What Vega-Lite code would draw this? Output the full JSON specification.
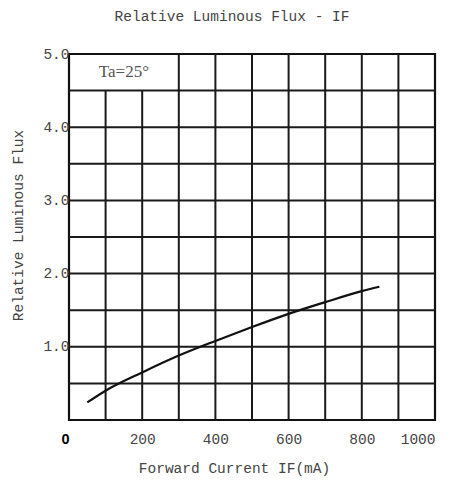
{
  "$schema": "https://vega.github.io/schema/vega-lite/v6.json",
  "width": 366,
  "height": 366,
  "autosize": {"type": "none"},
  "padding": {"left": 69, "top": 54, "right": 22, "bottom": 64},
  "background": "white",
  "title": {
    "text": "Relative Luminous Flux - IF",
    "font": "Liberation Mono",
    "fontSize": 14.5,
    "fontWeight": "normal",
    "color": "#444",
    "offset": 22,
    "dx": -20
  },
  "config": {
    "view": {"stroke": "#111", "strokeWidth": 2.2},
    "axis": {"grid": false, "domain": false, "ticks": false}
  },
  "datasets": {
    "hgrid": [
      {"y": 0.5}, {"y": 1.0}, {"y": 1.5}, {"y": 2.0}, {"y": 2.5},
      {"y": 3.0}, {"y": 3.5}, {"y": 4.0}, {"y": 4.5}
    ],
    "vgrid": [
      {"x": 100, "y0": 0, "y1": 4.5},
      {"x": 200, "y0": 0, "y1": 4.5},
      {"x": 300, "y0": 0, "y1": 5},
      {"x": 400, "y0": 0, "y1": 5},
      {"x": 500, "y0": 0, "y1": 5},
      {"x": 600, "y0": 0, "y1": 5},
      {"x": 700, "y0": 0, "y1": 5},
      {"x": 800, "y0": 0, "y1": 5},
      {"x": 900, "y0": 0, "y1": 5}
    ],
    "curve": [
      {"current": 50, "flux": 0.24},
      {"current": 100, "flux": 0.40},
      {"current": 200, "flux": 0.65},
      {"current": 300, "flux": 0.88},
      {"current": 400, "flux": 1.08},
      {"current": 500, "flux": 1.27},
      {"current": 600, "flux": 1.45},
      {"current": 700, "flux": 1.61},
      {"current": 800, "flux": 1.76},
      {"current": 848, "flux": 1.82}
    ],
    "note": [{"x": 150, "y": 4.75, "label": "Ta=25°"}]
  },
  "layer": [
    {
      "data": {"name": "hgrid"},
      "mark": {"type": "rule", "color": "#1a1a1a", "strokeWidth": 2},
      "encoding": {
        "y": {
          "field": "y",
          "type": "quantitative",
          "scale": {"domain": [0, 5], "nice": false},
          "axis": {
            "values": [1, 2, 3, 4, 5],
            "format": ".1f",
            "title": "Relative Luminous Flux",
            "titleFont": "Liberation Mono",
            "titleFontSize": 14.5,
            "titleFontWeight": "normal",
            "titleColor": "#444",
            "titleAngle": -90,
            "titleBaseline": "middle",
            "titleAlign": "center",
            "titleX": -51,
            "titleY": 171,
            "labelFont": "Liberation Mono",
            "labelFontSize": 14.5,
            "labelColor": "#444",
            "labelPadding": 0,
            "labelDy": 2
          }
        }
      }
    },
    {
      "data": {"name": "vgrid"},
      "mark": {"type": "rule", "color": "#1a1a1a", "strokeWidth": 2},
      "encoding": {
        "x": {
          "field": "x",
          "type": "quantitative",
          "scale": {"domain": [0, 1000], "nice": false},
          "axis": {
            "values": [0, 200, 400, 600, 800, 1000],
            "format": "d",
            "title": "Forward Current IF(mA)",
            "titleFont": "Liberation Mono",
            "titleFontSize": 14.5,
            "titleFontWeight": "normal",
            "titleColor": "#444",
            "titleX": 165,
            "titlePadding": 16,
            "labelFont": {"condition": {"test": "datum.value === 0", "value": "Liberation Sans"}, "value": "Liberation Mono"},
            "labelFontWeight": {"condition": {"test": "datum.value === 0", "value": "bold"}, "value": "normal"},
            "labelColor": {"condition": {"test": "datum.value === 0", "value": "#000"}, "value": "#444"},
            "labelAlign": {"condition": {"test": "datum.value === 0 || datum.value === 1000", "value": "right"}, "value": "center"},
            "labelFontSize": 14.5,
            "labelDx": 5,
            "labelPadding": 12
          }
        },
        "y": {"field": "y0", "type": "quantitative"},
        "y2": {"field": "y1"}
      }
    },
    {
      "data": {"name": "curve"},
      "mark": {"type": "line", "color": "#111", "strokeWidth": 2.2, "interpolate": "monotone"},
      "encoding": {
        "x": {"field": "current", "type": "quantitative"},
        "y": {"field": "flux", "type": "quantitative"}
      }
    },
    {
      "data": {"name": "note"},
      "mark": {"type": "text", "font": "Liberation Serif", "fontSize": 17, "color": "#555"},
      "encoding": {
        "x": {"field": "x", "type": "quantitative"},
        "y": {"field": "y", "type": "quantitative"},
        "text": {"field": "label"}
      }
    }
  ]
}
